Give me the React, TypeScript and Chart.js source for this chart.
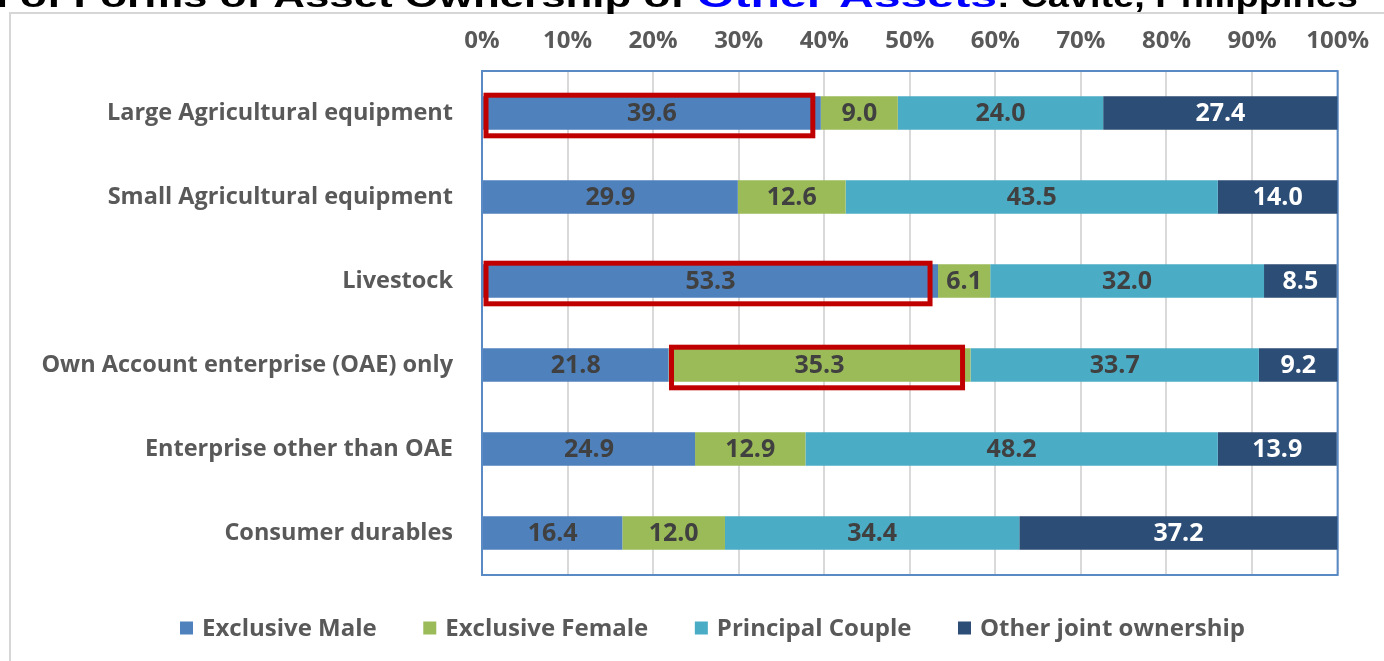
import React, { useEffect, useRef } from 'react';
import { Chart, registerables } from 'chart.js';

Chart.register(...registerables);

const categories = [
  'Large Agricultural equipment',
  'Small Agricultural equipment',
  'Livestock',
  'Own Account enterprise (OAE) only',
  'Enterprise other than OAE',
  'Consumer durables',
];
const seriesNames = ['Exclusive Male', 'Exclusive Female', 'Principal Couple', 'Other joint ownership'];
const exclusiveMale = [39.6, 29.9, 53.3, 21.8, 24.9, 16.4];
const exclusiveFemale = [9.0, 12.6, 6.1, 35.3, 12.9, 12.0];
const principalCouple = [24.0, 43.5, 32.0, 33.7, 48.2, 34.4];
const otherJoint = [27.4, 14.0, 8.5, 9.2, 13.9, 37.2];
const axisMin = 0;
const axisMax = 100;
const axisStep = 10;
const highlights = [
  { category: 'Large Agricultural equipment', series: 'Exclusive Male' },
  { category: 'Livestock', series: 'Exclusive Male' },
  { category: 'Own Account enterprise (OAE) only', series: 'Exclusive Female' },
];
const titlePrefix = 'Distribution of Forms of Asset Ownership of ';
const titleBlue = 'Other Assets';
const titleSuffix = ': Cavite, Philippines';

const colors = ['#4F81BD', '#9BBB59', '#4BACC6', '#2C4D75'];
const labelColors = ['#404040', '#404040', '#404040', '#FFFFFF'];
const FONT = '"Open Sans", "Noto Sans", sans-serif';

export default function App() {
  const ref = useRef<HTMLCanvasElement | null>(null);

  useEffect(() => {
    const canvas = ref.current;
    if (!canvas) return;
    const values = [exclusiveMale, exclusiveFemale, principalCouple, otherJoint];

    const bgPlugin = {
      id: 'bg',
      beforeDraw(chart: any) {
        const { ctx, width, height } = chart;
        ctx.save();
        ctx.fillStyle = '#FFFFFF';
        ctx.fillRect(0, 0, width, height);
        ctx.strokeStyle = '#D6D6D6';
        ctx.lineWidth = 2;
        ctx.strokeRect(10, 13, width + 20, height + 20);
        ctx.restore();
      },
      beforeDatasetsDraw(chart: any) {
        const { ctx, chartArea } = chart;
        ctx.save();
        ctx.strokeStyle = '#5A8AC6';
        ctx.lineWidth = 2;
        ctx.strokeRect(chartArea.left, chartArea.top, chartArea.right - chartArea.left, chartArea.bottom - chartArea.top);
        ctx.restore();
      },
    };

    const labelPlugin = {
      id: 'valueLabels',
      afterDatasetsDraw(chart: any) {
        const { ctx } = chart;
        ctx.save();
        ctx.font = `700 25px ${FONT}`;
        ctx.textAlign = 'center';
        ctx.textBaseline = 'middle';
        chart.data.datasets.forEach((ds: any, di: number) => {
          const meta = chart.getDatasetMeta(di);
          meta.data.forEach((el: any, i: number) => {
            const v = ds.data[i];
            ctx.fillStyle = labelColors[di];
            ctx.fillText(Number(v).toFixed(1), (el.x + el.base) / 2, el.y + 1);
          });
        });
        // highlight boxes
        ctx.strokeStyle = '#C00000';
        ctx.lineWidth = 5;
        highlights.forEach((h) => {
          const di = seriesNames.indexOf(h.series);
          const ci = categories.indexOf(h.category);
          if (di < 0 || ci < 0) return;
          const el: any = chart.getDatasetMeta(di).data[ci];
          const x0 = Math.min(el.base, el.x) + 3;
          const x1 = Math.max(el.base, el.x) - 8;
          const y0 = el.y - el.height / 2 - 1;
          const y1 = el.y + el.height / 2 + 6;
          ctx.strokeRect(x0, y0, x1 - x0, y1 - y0);
        });
        ctx.restore();
      },
    };

    const legendTitlePlugin = {
      id: 'legendTitle',
      afterDraw(chart: any) {
        const { ctx, chartArea } = chart;
        ctx.save();
        // legend
        ctx.font = `700 24px ${FONT}`;
        ctx.textBaseline = 'middle';
        ctx.textAlign = 'left';
        const box = 13;
        const gapBox = 9;
        const legendLeft = 180;
        const legendRight = 1245;
        const widths = chart.data.datasets.map((d: any) => ctx.measureText(d.label).width);
        const itemsW = widths.reduce((a: number, w: number) => a + w + box + gapBox, 0);
        const gap = (legendRight - legendLeft - itemsW) / (widths.length - 1);
        let x = legendLeft;
        const y = chartArea.bottom + 53;
        chart.data.datasets.forEach((d: any, i: number) => {
          ctx.fillStyle = d.backgroundColor;
          ctx.fillRect(x, y - box / 2, box, box);
          ctx.fillStyle = '#595959';
          ctx.fillText(d.label, x + box + gapBox, y + 1);
          x += box + gapBox + widths[i] + gap;
        });
        // title (partially clipped at top)
        ctx.font = `700 32px "Liberation Sans", Arial, sans-serif`;
        ctx.textBaseline = 'alphabetic';
        const baseY = 7;
        const drawPart = (text: string, x0: number, x1: number, color: string, alignRight: boolean, scaleText?: string) => {
          const measureW = ctx.measureText(scaleText || text).width;
          const s = (x1 - x0) / measureW;
          ctx.save();
          ctx.fillStyle = color;
          if (alignRight) {
            ctx.translate(x1, baseY);
            ctx.scale(s, 1);
            ctx.textAlign = 'right';
            ctx.fillText(text, 0, 0);
          } else {
            ctx.translate(x0, baseY);
            ctx.scale(s, 1);
            ctx.textAlign = 'left';
            ctx.fillText(text, 0, 0);
          }
          ctx.restore();
        };
        drawPart(titlePrefix, 20, 697, '#000000', true, titlePrefix.slice(titlePrefix.indexOf('of ')));
        drawPart(titleBlue, 697, 997, '#0000FF', false);
        drawPart(titleSuffix, 997, 1358, '#000000', false);
        ctx.restore();
      },
    };

    const chart = new Chart(canvas, {
      type: 'bar',
      data: {
        labels: categories,
        datasets: seriesNames.map((name, i) => ({
          label: name,
          data: values[i],
          backgroundColor: colors[i],
          borderWidth: 0,
          categoryPercentage: 1,
          barPercentage: 0.4,
        })),
      },
      options: {
        indexAxis: 'y',
        responsive: false,
        animation: false,
        layout: { padding: { left: 0, right: 46, top: 0, bottom: 86 } },
        plugins: {
          legend: { display: false },
          title: { display: false },
          tooltip: { enabled: false },
        },
        scales: {
          x: {
            type: 'linear',
            position: 'top',
            stacked: true,
            min: axisMin,
            max: axisMax,
            ticks: {
              stepSize: axisStep,
              callback: (v: any) => `${v}%`,
              color: '#595959',
              font: { family: FONT, size: 24, weight: '700' },
              padding: 15,
            },
            grid: { color: '#D9D9D9', lineWidth: 2, drawTicks: false },
            border: { display: false },
            afterFit: (scale: any) => {
              scale.height = 71;
            },
          },
          y: {
            type: 'category',
            stacked: true,
            ticks: {
              color: '#595959',
              font: { family: FONT, size: 23.5, weight: '700' },
              padding: 29,
            },
            grid: { display: false, drawTicks: false },
            border: { display: false },
            afterFit: (scale: any) => {
              scale.width = 482;
            },
          },
        },
      },
      plugins: [bgPlugin, labelPlugin, legendTitlePlugin],
    } as any);

    return () => chart.destroy();
  }, []);

  return (
    <div style={{ position: 'absolute', left: 0, top: 0, width: 1384, height: 661, background: '#fff' }}>
      <canvas ref={ref} width={1384} height={661} style={{ display: 'block' }} />
    </div>
  );
}
